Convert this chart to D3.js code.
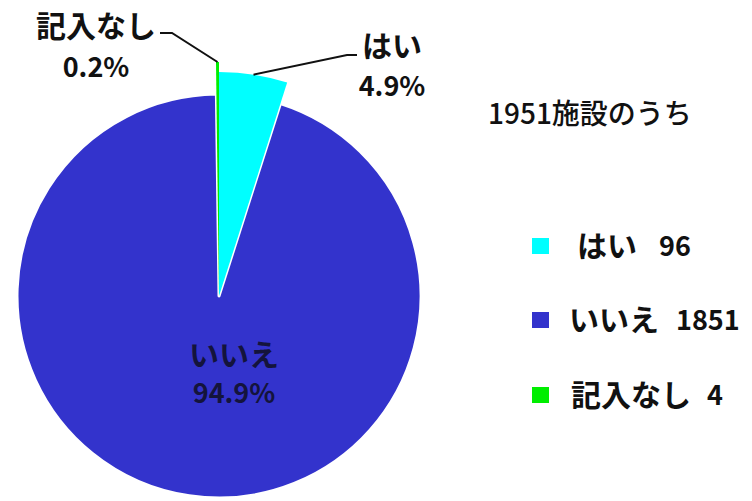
<!DOCTYPE html>
<html>
<head>
<meta charset="utf-8">
<script src="https://cdn.jsdelivr.net/npm/d3@7/dist/d3.min.js"></script>
<style>
  html, body { margin: 0; padding: 0; background: #fff; }
  svg { display: block; }
  text { font-family: "Noto Sans CJK JP", "Noto Sans", sans-serif; }
</style>
</head>
<body>
<svg id="chart" width="752" height="501"></svg>
<script>
// ---- data ----
const categories = ["はい", "いいえ", "記入なし"];
const counts = [96, 1851, 4];
const colors = ["#00ffff", "#3333cc", "#00ee00"];
const title = "1951施設のうち";

// ---- layout ----
const W = 752, H = 501;
const cx = 219, cy = 296;
const radii = [224, 202, 234];
const total = d3.sum(counts);
const pct = d3.format(".1%");

const svg = d3.select("#chart");
svg.append("rect").attr("width", W).attr("height", H).attr("fill", "#fff");

const data = categories.map((c, i) => ({ cat: c, value: counts[i], color: colors[i], r: radii[i], i }));
const pie = d3.pie().sort(null).value(d => d.value).startAngle(0).endAngle(2 * Math.PI);
const arcs = pie(data);

const g = svg.append("g").attr("transform", `translate(${cx},${cy})`);

// draw the big slice first, with a white edge, then the small slices on top
const order = [1, 0, 2];
order.forEach(k => {
  const a = arcs[k];
  const arcGen = d3.arc().innerRadius(0).outerRadius(a.data.r);
  g.append("path")
    .attr("d", arcGen(a))
    .attr("fill", a.data.color)
    .attr("stroke", k === 1 ? "#fff" : "none")
    .attr("stroke-width", k === 1 ? 3 : 0)
    .attr("stroke-linejoin", "round");
});

function outerPoint(a) {
  const m = (a.startAngle + a.endAngle) / 2;
  return [cx + a.data.r * Math.sin(m), cy - a.data.r * Math.cos(m)];
}

// leader lines
const lines = [
  { k: 2, via: [[172, 33], [160, 33]] },
  { k: 0, via: [[347, 55], [357, 55]] }
];
lines.forEach(L => {
  const p0 = outerPoint(arcs[L.k]);
  const pts = [p0].concat(L.via);
  svg.append("path")
    .attr("d", d3.line()(pts))
    .attr("fill", "none")
    .attr("stroke", "#111")
    .attr("stroke-width", 2);
});

// outside / inside labels
const labelPos = [
  { k: 0, x: 392, y1: 57, y2: 96, fill: "#111" },
  { k: 1, x: 234, y1: 366, y2: 403, fill: "#14143c" },
  { k: 2, x: 96, y1: 37, y2: 77, fill: "#111" }
];
labelPos.forEach(p => {
  const a = arcs[p.k];
  svg.append("text")
    .attr("x", p.x).attr("y", p.y1)
    .attr("text-anchor", "middle")
    .attr("font-size", 30).attr("font-weight", 700)
    .attr("fill", p.fill)
    .text(a.data.cat);
  svg.append("text")
    .attr("x", p.x).attr("y", p.y2)
    .attr("text-anchor", "middle")
    .attr("font-size", 27).attr("font-weight", 700)
    .attr("fill", p.fill)
    .text(pct(a.data.value / total));
});

// title
svg.append("text")
  .attr("x", 488).attr("y", 124)
  .attr("font-size", 28).attr("font-weight", 500)
  .attr("fill", "#111")
  .text(title);

// legend
const legY = [246, 320, 395];
const legTextX = [577, 569, 571];
const legNumX = [659, 676, 707];
data.forEach((d, i) => {
  svg.append("rect")
    .attr("x", 532).attr("y", legY[i] - 8)
    .attr("width", 17).attr("height", 16)
    .attr("fill", d.color);
  svg.append("text")
    .attr("x", legTextX[i]).attr("y", legY[i] + 11)
    .attr("font-size", 30).attr("font-weight", 700)
    .attr("fill", "#111")
    .text(d.cat);
  svg.append("text")
    .attr("x", legNumX[i]).attr("y", legY[i] + 10)
    .attr("font-size", 27).attr("font-weight", 700)
    .attr("fill", "#111")
    .text(d.value);
});
</script>
</body>
</html>
